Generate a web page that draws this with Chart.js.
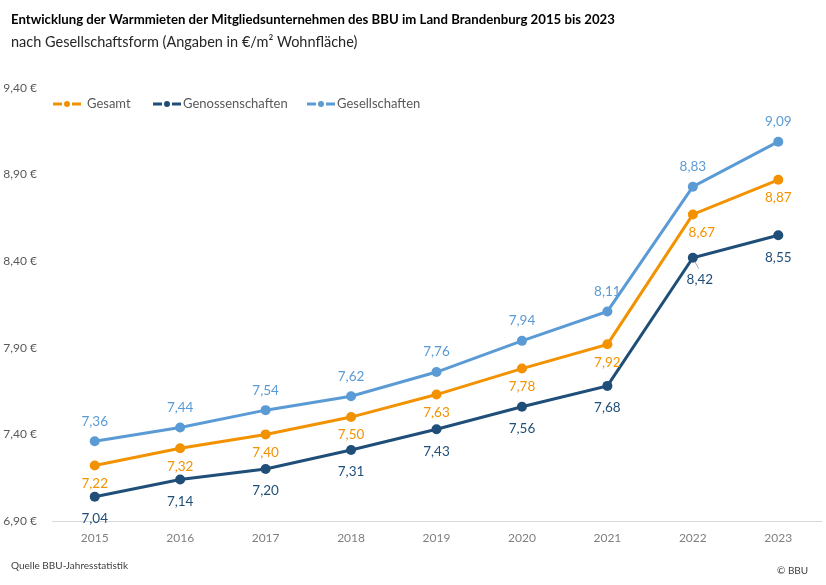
<!DOCTYPE html>
<html>
<head>
<meta charset="utf-8">
<script src="https://cdn.jsdelivr.net/npm/chart.js@4.4.1/dist/chart.umd.min.js"></script>
<style>
html,body{margin:0;padding:0;background:#fff;}
#wrap{width:826px;height:585px;position:relative;}
</style>
</head>
<body>
<div id="wrap"><canvas id="c" width="826" height="585"></canvas></div>
<script>
const years = ['2015','2016','2017','2018','2019','2020','2021','2022','2023'];
const gesamt = [7.22, 7.32, 7.40, 7.50, 7.63, 7.78, 7.92, 8.67, 8.87];
const genossenschaften = [7.04, 7.14, 7.20, 7.31, 7.43, 7.56, 7.68, 8.42, 8.55];
const gesellschaften = [7.36, 7.44, 7.54, 7.62, 7.76, 7.94, 8.11, 8.83, 9.09];
const yTicks = [6.90, 7.40, 7.90, 8.40, 8.90, 9.40];
const seriesNames = ['Gesamt', 'Genossenschaften', 'Gesellschaften'];
const titleText = 'Entwicklung der Warmmieten der Mitgliedsunternehmen des BBU im Land Brandenburg 2015 bis 2023';
const subtitleText = 'nach Gesellschaftsform (Angaben in €/m² Wohnfläche)';
const sourceText = 'Quelle BBU-Jahresstatistik';
const copyText = '© BBU';

const FONT = 'Lato, "Open Sans", sans-serif';
const C_OR = '#F39200', C_DB = '#1F4E79', C_LB = '#5B9BD5';
const fmt = v => v.toFixed(2).replace('.', ',');

// label placement per dataset: dy offset, optional per-point dx
const labelCfg = [
  {dy: 18, dx: {7: 9}},
  {dy: 22, dx: {7: 7}, leader: {7: true}},
  {dy: -20, dx: {}}
];

const textPlugin = {
  id: 'texts',
  afterDraw(chart) {
    const ctx = chart.ctx;
    ctx.save();
    ctx.textBaseline = 'middle';
    ctx.textAlign = 'left';
    ctx.fillStyle = '#000';
    ctx.font = 'bold 13.2px ' + FONT;
    ctx.fillText(titleText, 11, 20);
    ctx.fillStyle = '#262626';
    ctx.font = '14.5px ' + FONT;
    ctx.fillText(subtitleText, 11, 42);
    ctx.fillStyle = '#404040';
    ctx.font = '10px ' + FONT;
    ctx.fillText(sourceText, 11, 566);
    ctx.fillText(copyText, 777, 571);

    // legend
    const items = [
      {x: 53, tx: 87, c: C_OR, t: seriesNames[0]},
      {x: 153, tx: 183, c: C_DB, t: seriesNames[1]},
      {x: 307, tx: 337, c: C_LB, t: seriesNames[2]}
    ];
    const ly = 104;
    ctx.font = '13px ' + FONT;
    items.forEach(it => {
      ctx.strokeStyle = it.c; ctx.fillStyle = it.c; ctx.lineWidth = 3;
      ctx.beginPath();
      ctx.moveTo(it.x, ly); ctx.lineTo(it.x + 9, ly);
      ctx.moveTo(it.x + 19, ly); ctx.lineTo(it.x + 28, ly);
      ctx.stroke();
      ctx.beginPath(); ctx.arc(it.x + 14, ly, 3, 0, Math.PI * 2); ctx.fill();
      ctx.fillStyle = '#595959';
      ctx.fillText(it.t, it.tx, ly);
    });
    ctx.restore();
  },
  afterDatasetsDraw(chart) {
    const ctx = chart.ctx;
    ctx.save();
    ctx.font = '13.5px ' + FONT;
    ctx.textAlign = 'center';
    ctx.textBaseline = 'middle';
    chart.data.datasets.forEach((ds, di) => {
      const meta = chart.getDatasetMeta(di);
      const cfg = labelCfg[di];
      meta.data.forEach((pt, i) => {
        const dx = cfg.dx[i] || 0;
        if (cfg.leader && cfg.leader[i]) {
          ctx.strokeStyle = '#a6a6a6'; ctx.lineWidth = 1;
          ctx.beginPath();
          ctx.moveTo(pt.x + 2, pt.y + 4);
          ctx.lineTo(pt.x + 6, pt.y + 11);
          ctx.stroke();
        }
        ctx.fillStyle = ds.borderColor;
        ctx.fillText(fmt(ds.data[i]), pt.x + dx, pt.y + cfg.dy);
      });
    });
    ctx.restore();
  }
};

const mkDs = (label, data, color) => ({
  label, data,
  borderColor: color, backgroundColor: color,
  pointBackgroundColor: color, pointBorderWidth: 0,
  pointRadius: 5, borderWidth: 3, tension: 0
});

new Chart(document.getElementById('c'), {
  type: 'line',
  data: {
    labels: years,
    datasets: [
      mkDs(seriesNames[0], gesamt, C_OR),
      mkDs(seriesNames[1], genossenschaften, C_DB),
      mkDs(seriesNames[2], gesellschaften, C_LB)
    ]
  },
  options: {
    responsive: false,
    animation: false,
    layout: {padding: {top: 88, left: 0, right: 0, bottom: 34}},
    plugins: {legend: {display: false}, tooltip: {enabled: false}},
    scales: {
      x: {
        offset: true,
        grid: {display: false, drawTicks: false},
        border: {display: true, color: '#d9d9d9', width: 1},
        ticks: {color: '#7f7f7f', font: {family: FONT, size: 12}, padding: 10, maxRotation: 0},
        afterFit(s) { s.height = 30; }
      },
      y: {
        min: 6.9, max: 9.4,
        grid: {display: false, drawTicks: false},
        border: {display: false},
        afterBuildTicks(s) { s.ticks = yTicks.map(v => ({value: v})); },
        ticks: {color: '#595959', font: {family: FONT, size: 12}, padding: 15,
          callback: v => fmt(v) + ' €'},
        afterFit(s) { s.width = 52; }
      }
    }
  },
  plugins: [textPlugin]
});
</script>
</body>
</html>
